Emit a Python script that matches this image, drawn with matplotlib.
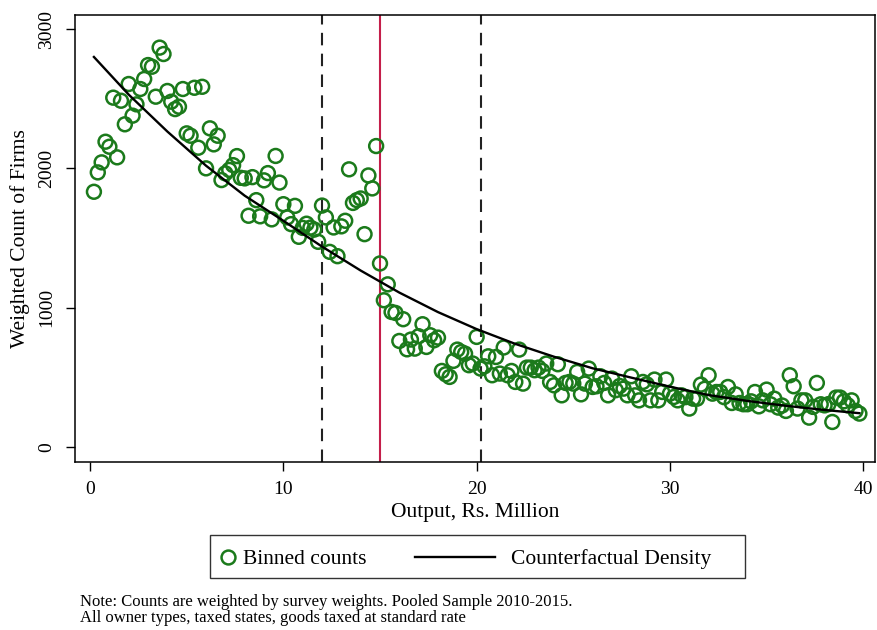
import matplotlib
matplotlib.use("Agg")
import matplotlib.pyplot as plt
from matplotlib.lines import Line2D
from matplotlib.patches import Rectangle
import numpy as np

plt.rcParams['font.family'] = ['Liberation Serif', 'DejaVu Serif']

# ---- data ----
bin_width = 0.2
counts = [
    1833, 1972, 2044, 2192, 2156, 2508, 2080, 2486, 2317, 2606,
    2379, 2460, 2570, 2642, 2742, 2730, 2515, 2867, 2821, 2556,
    2479, 2426, 2443, 2570, 2252, 2235, 2579, 2149, 2586, 2001,
    2288, 2173, 2235, 1917, 1965, 1990, 2024, 2089, 1933, 1929,
    1661, 1938, 1773, 1657, 1915, 1967, 1635, 2090, 1899, 1744,
    1649, 1601, 1732, 1510, 1574, 1604, 1576, 1562, 1474, 1734,
    1649, 1402, 1577, 1371, 1585, 1625, 1994, 1753, 1773, 1785,
    1529, 1950, 1857, 2161, 1319, 1055, 1169, 971, 964, 763,
    919, 703, 773, 708, 797, 883, 720, 804, 768, 787,
    548, 524, 505, 620, 701, 684, 672, 589, 601, 792,
    565, 581, 653, 517, 648, 529, 716, 517, 548, 469,
    701, 457, 572, 572, 553, 572, 548, 601, 469, 445,
    596, 373, 462, 469, 457, 541, 380, 457, 565, 433,
    438, 510, 462, 373, 493, 410, 440, 421, 373, 510,
    373, 337, 469, 452, 337, 486, 337, 397, 486, 385,
    361, 337, 373, 360, 278, 349, 349, 450, 420, 517,
    385, 397, 397, 360, 433, 318, 380, 318, 309, 309,
    330, 397, 294, 337, 414, 309, 349, 285, 300, 261,
    517, 438, 278, 337, 337, 213, 290, 462, 309, 301,
    310, 182, 357, 357, 330, 301, 337, 261, 242,
]
bin_centers = [round(bin_width * (i + 1), 1) for i in range(len(counts))]

curve_x = [0.2, 2, 4, 6, 8, 10, 12, 14, 16, 18, 20, 22, 24, 26, 28, 30, 32, 34, 36, 38, 39.8]
curve_y = [2800, 2530, 2265, 2020, 1805, 1625, 1440, 1268, 1110, 970, 848, 742, 650, 567,
           500, 435, 375, 333, 298, 268, 245]

dashed_x = [12, 20.2]
threshold_x = 15

x_ticks = [0, 10, 20, 30, 40]
y_ticks = [0, 1000, 2000, 3000]

legend_labels = ['Binned counts', 'Counterfactual Density']
note_lines = ['Note: Counts are weighted by survey weights. Pooled Sample 2010-2015.',
              'All owner types, taxed states, goods taxed at standard rate']

green = '#1b7a1b'

fig = plt.figure(figsize=(8.78, 6.30), dpi=100)
ax = fig.add_axes([0.0854, 0.2667, 0.911, 0.7095])

ax.scatter(bin_centers, counts, s=100, facecolors='none', edgecolors=green,
           linewidths=1.8, zorder=3)
ax.plot(curve_x, curve_y, color='black', lw=1.7, zorder=4)
for xv in dashed_x:
    ax.axvline(xv, color='#222222', lw=1.5, ls=(0, (6, 4)), zorder=2)
ax.axvline(threshold_x, color='#c41e4a', lw=1.5, zorder=2)

ax.set_xlim(-0.78, 40.6)
ax.set_ylim(-105, 3101)
ax.set_xticks(x_ticks)
ax.set_yticks(y_ticks)
ax.tick_params(direction='out', length=6.5, width=1, labelsize=14)
ax.tick_params(axis='y', pad=8)
ax.tick_params(axis='x', pad=7)
for lab in ax.get_yticklabels():
    lab.set_rotation(90)
    lab.set_va('center')
for sp in ax.spines.values():
    sp.set_linewidth(1.1)
    sp.set_color('black')

ax.set_xlabel('Output, Rs. Million', fontsize=15.5, labelpad=4)
ax.set_ylabel('Weighted Count of Firms', fontsize=15.5, labelpad=6)

# legend drawn manually in figure coordinates
W, H = 878.0, 630.0
box = Rectangle((210 / W, (H - 578) / H), (745 - 210) / W, (578 - 535) / H,
                transform=fig.transFigure, facecolor='white', edgecolor='#333333',
                linewidth=1.0)
fig.add_artist(box)
ly = (H - 557) / H
fig.add_artist(Line2D([228 / W], [ly], marker='o', ls='none', markerfacecolor='none',
                      markeredgecolor=green, markersize=10, markeredgewidth=1.8,
                      transform=fig.transFigure))
fig.text(243 / W, (H - 559) / H, legend_labels[0], fontsize=15.5, ha='left', va='center')
fig.add_artist(Line2D([415 / W, 495 / W], [ly, ly], color='black', lw=1.7,
                      transform=fig.transFigure))
fig.text(511 / W, (H - 559) / H, legend_labels[1], fontsize=15.5, ha='left', va='center')

fig.text(80 / W, (H - 602) / H, note_lines[0], fontsize=12, ha='left', va='center')
fig.text(80 / W, (H - 618) / H, note_lines[1], fontsize=12, ha='left', va='center')

fig.savefig('out.png', dpi=100)
